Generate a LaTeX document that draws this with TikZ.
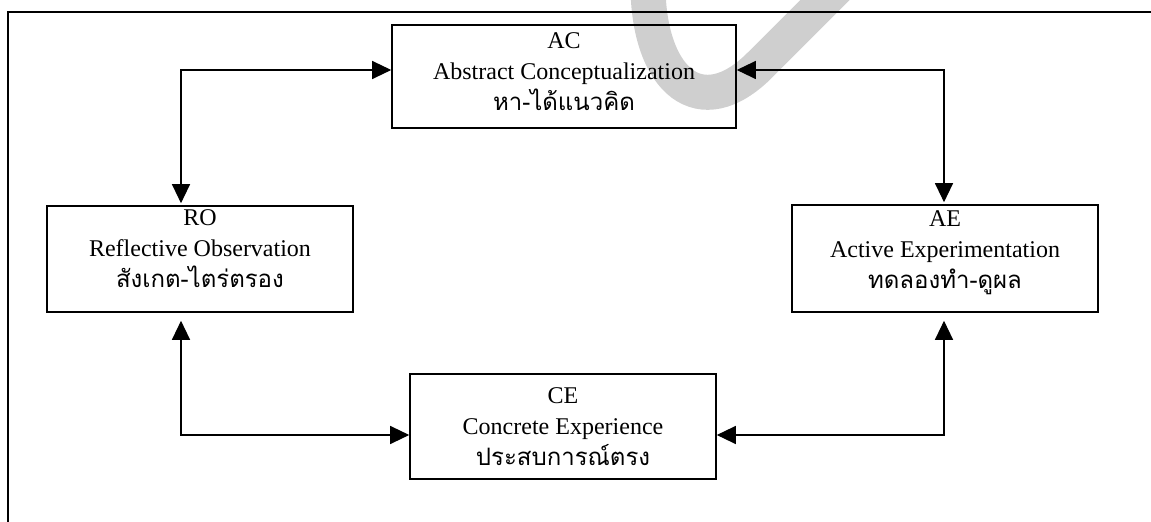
\documentclass[tikz,border=0pt]{standalone}
\usepackage{fontspec}
\setmainfont{Liberation Serif}
\newfontfamily\thaifont[Script=Thai]{Loma}
\usetikzlibrary{arrows.meta}

\tikzset{
  stage/.style={draw, line width=0.8pt, align=center, inner sep=0pt,
    minimum width=153pt, minimum height=53pt,
    font=\fontsize{12}{15.5}\selectfont},
  link/.style={line width=0.6pt,
    {Triangle[length=9.5pt,width=9pt]}-{Triangle[length=9.5pt,width=9pt]}},
  frameline/.style={line width=0.9pt},
  watermark/.style={line width=17.5pt, draw=gray!38}
}
\newcommand{\thaitext}[1]{{\thaifont\fontsize{12}{15.5}\selectfont #1}}

\begin{document}
\begin{tikzpicture}[x=0.5pt, y=-0.5pt]
  \useasboundingbox (0,0) rectangle (1151,522);

  % light grey stroke in the background
  \begin{scope}
    \clip (0,0) rectangle (1151,522);
    \draw[watermark] (648,-10) .. controls (650,80) and (700,125) .. (760,65) -- (845,-20);
  \end{scope}

  % page frame (top and left edges)
  \coordinate (fbl) at (8,522);
  \coordinate (ftl) at (8,12);
  \coordinate (ftr) at (1151,12);
  \draw[frameline] (fbl) -- (ftl) -- (ftr);

  % the four stages
  \node[stage, minimum width=172pt, minimum height=51.5pt, text depth=5.4pt] (AC) at (564,76.5)
    {AC\\Abstract Conceptualization\\\thaitext{หา-ได้แนวคิด}};
  \node[stage, text depth=10.9pt] (RO) at (200,259)
    {RO\\Reflective Observation\\\thaitext{สังเกต-ไตร่ตรอง}};
  \node[stage, minimum height=53.5pt, text depth=9.4pt] (AE) at (945,258.5)
    {AE\\Active Experimentation\\\thaitext{ทดลองทำ-ดูผล}};
  \node[stage, minimum height=52.5pt, text depth=0.4pt] (CE) at (563,426.5)
    {CE\\Concrete Experience\\\thaitext{ประสบการณ์ตรง}};

  % connectors
  \draw[link, shorten >=1pt] ([yshift=3.25pt]AC.west) -| ([xshift=-9.5pt]RO.north);
  \draw[link, shorten >=1pt] ([yshift=3.25pt]AC.east) -| ([xshift=-0.5pt]AE.north);
  \draw[link, shorten <=4pt] ([xshift=-9.5pt]RO.south) |- ([yshift=-4.25pt]CE.west);
  \draw[link, shorten <=4pt] ([xshift=-0.5pt]AE.south) |- ([yshift=-4.25pt]CE.east);
\end{tikzpicture}
\end{document}
